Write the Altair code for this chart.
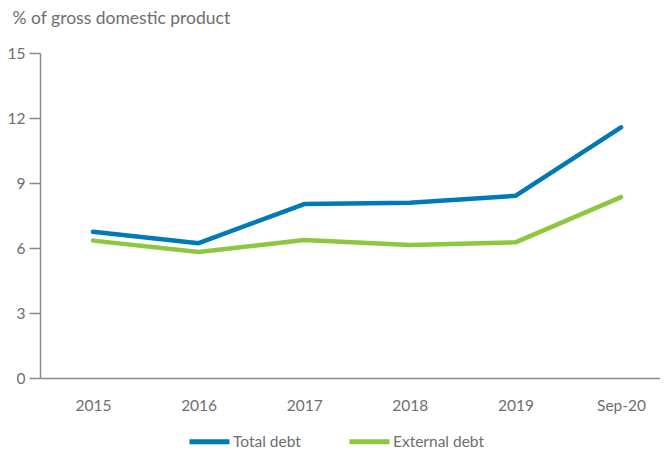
import altair as alt
import pandas as pd

categories = ["2015", "2016", "2017", "2018", "2019", "Sep-20"]
total_debt = [6.75, 6.22, 8.03, 8.09, 8.41, 11.57]
external_debt = [6.34, 5.82, 6.37, 6.14, 6.26, 8.35]
series_names = ["Total debt", "External debt"]
series_colors = ["#0079B8", "#8DC63F"]
y_ticks = [0, 3, 6, 9, 12, 15]

rows = []
for i, c in enumerate(categories):
    rows.append({"idx": i, "cat": c, "series": series_names[0], "value": total_debt[i]})
    rows.append({"idx": i, "cat": c, "series": series_names[1], "value": external_debt[i]})
df = pd.DataFrame(rows)

label_expr = "[" + ",".join(f"'{c}'" for c in categories) + "][datum.value]"
FONT = "Lato"
GREY = "#6e6e6e"
AXIS_GREY = "#8a8a8c"

chart = alt.Chart(df).mark_line(strokeWidth=4.5, strokeCap="round", strokeJoin="round").encode(
    x=alt.X("idx:Q",
            scale=alt.Scale(domain=[-0.502, 5.369], nice=False, zero=False),
            axis=alt.Axis(values=list(range(len(categories))), labelExpr=label_expr,
                          title=None, ticks=False, grid=False, labelPadding=20,
                          labelFontSize=15.5, labelColor=GREY, labelFont=FONT,
                          domainColor=AXIS_GREY, domainWidth=1.5, labelFlush=False)),
    y=alt.Y("value:Q",
            scale=alt.Scale(domain=[0, 15], nice=False),
            axis=alt.Axis(values=y_ticks, title="% of gross domestic product",
                          titleAngle=0, titleAlign="left", titleBaseline="middle",
                          titleX=-28, titleY=-35, titleFont=FONT, titleFontSize=17.5,
                          titleFontWeight="normal", titleColor=GREY,
                          grid=False, tickSize=11, tickColor=AXIS_GREY, tickWidth=1.5,
                          domainColor=AXIS_GREY, domainWidth=1.5, labelPadding=4,
                          labelFontSize=15.5, labelColor=GREY, labelFont=FONT)),
    color=alt.Color("series:N",
                    scale=alt.Scale(domain=series_names, range=series_colors),
                    legend=alt.Legend(title=None, orient="none", direction="horizontal",
                                      legendX=147, legendY=366,
                                      symbolType="stroke", symbolSize=1600,
                                      symbolStrokeWidth=5, labelFontSize=15.5,
                                      labelFont=FONT, labelColor=GREY, labelOffset=1,
                                      columnPadding=38)),
).properties(
    width=620, height=325,
    autosize=alt.AutoSizeParams(type="none"),
    padding={"left": 32, "top": 45, "right": 0, "bottom": 73},
).configure_view(stroke=None)

chart.save("out.html", embed_options={"renderer": "svg", "actions": False})
